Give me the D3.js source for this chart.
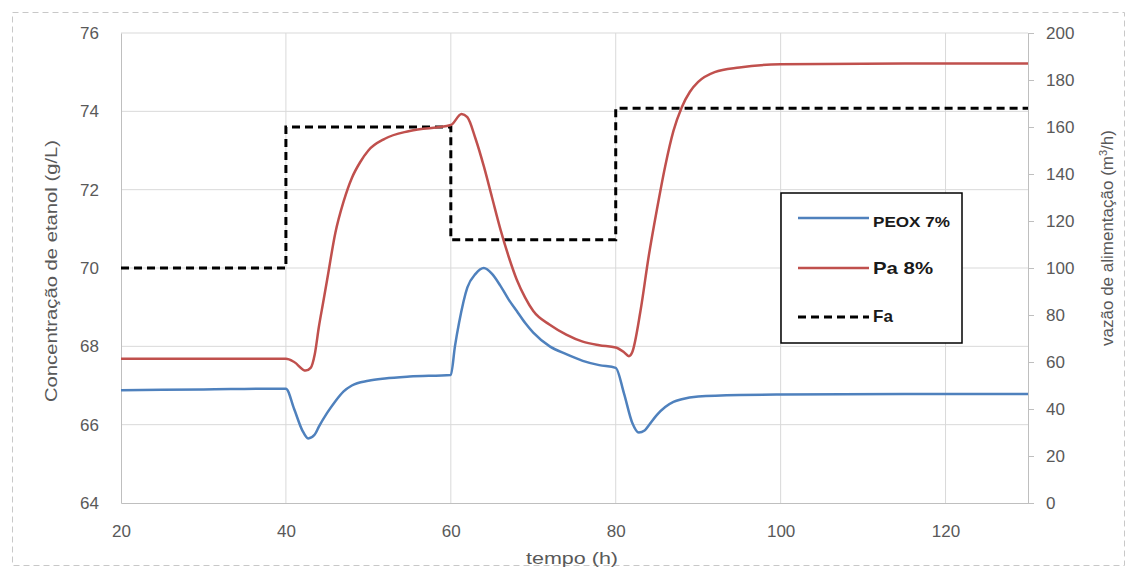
<!DOCTYPE html>
<html>
<head>
<meta charset="utf-8">
<script src="https://cdn.jsdelivr.net/npm/d3@7"></script>
<style>
  body { margin: 0; background: #fff; }
  text { font-family: "Liberation Sans", Arial, sans-serif; }
</style>
</head>
<body>
<script>
// tempo (h) / concentração (g/L)
var peoxT = [20, 30, 40, 41, 42, 42.7, 43.5, 44, 45, 46, 47, 48, 50, 52, 55, 60, 60.5, 61, 62, 63, 64, 65, 66, 67, 68, 69, 70, 72, 74, 76, 78, 80, 81, 82, 82.8, 83.5, 84, 85, 86, 87, 88, 90, 95, 100, 115, 130];
var peoxY = [66.88, 66.9, 66.92, 66.4, 65.85, 65.65, 65.75, 65.95, 66.3, 66.6, 66.85, 67.0, 67.12, 67.18, 67.23, 67.27, 68.0, 68.6, 69.5, 69.85, 70.0, 69.85, 69.55, 69.2, 68.9, 68.6, 68.35, 68.0, 67.8, 67.63, 67.52, 67.45, 66.8, 66.05, 65.8, 65.85, 65.98, 66.25, 66.45, 66.58, 66.65, 66.72, 66.76, 66.77, 66.78, 66.78];

var paT = [20, 30, 40, 41, 42.4, 43, 43.5, 44, 44.5, 45, 46, 47, 48, 49, 50, 52, 55, 60, 61.3, 62, 63, 64, 65, 66, 67, 68, 69, 70, 72, 74, 76, 78, 80, 81, 81.6, 82, 83, 84, 85, 86, 87, 88, 89, 90, 92, 95, 100, 115, 130];
var paY = [67.68, 67.68, 67.68, 67.6, 67.38, 67.45, 67.8, 68.5, 69.1, 69.7, 70.9, 71.7, 72.3, 72.7, 73.0, 73.3, 73.5, 73.65, 73.93, 73.85, 73.3, 72.6, 71.8, 71.0, 70.3, 69.7, 69.25, 68.9, 68.55, 68.3, 68.12, 68.03, 67.97, 67.85, 67.75, 67.85, 68.9, 70.3, 71.5, 72.6, 73.5, 74.1, 74.5, 74.75, 75.0, 75.12, 75.2, 75.22, 75.22];

// vazão de alimentação (m3/h), degraus
var faT = [20, 40, 40, 60, 60, 80, 80, 130];
var faY = [100, 100, 160, 160, 112, 112, 168, 168];

var xTicks = [20, 40, 60, 80, 100, 120];
var yTicks = [64, 66, 68, 70, 72, 74, 76];
var y2Ticks = [0, 20, 40, 60, 80, 100, 120, 140, 160, 180, 200];

var w = 1131, h = 569;
var pLeft = 121, pRight = 1028, pTop = 33, pBottom = 503;

var svg = d3.select("body").append("svg")
  .attr("width", w).attr("height", h);

// outer dashed frame
svg.append("rect")
  .attr("x", 12.5).attr("y", 12.5)
  .attr("width", w - 19).attr("height", h - 16)
  .attr("fill", "none").attr("stroke", "#c8c8c8")
  .attr("stroke-dasharray", "6,4");

var x = d3.scaleLinear().domain([20, 130]).range([pLeft, pRight]);
var y = d3.scaleLinear().domain([64, 76]).range([pBottom, pTop]);
var y2 = d3.scaleLinear().domain([0, 200]).range([pBottom, pTop]);

var grey = "#d9d9d9";

// grid
svg.append("g").selectAll("line").data(yTicks.slice(1)).enter().append("line")
  .attr("x1", pLeft).attr("x2", pRight)
  .attr("y1", function(d) { return y(d); }).attr("y2", function(d) { return y(d); })
  .attr("stroke", grey);
svg.append("g").selectAll("line").data(xTicks.slice(1)).enter().append("line")
  .attr("y1", pTop).attr("y2", pBottom)
  .attr("x1", function(d) { return x(d); }).attr("x2", function(d) { return x(d); })
  .attr("stroke", grey);

// axes
var xAxis = d3.axisBottom(x).tickValues(xTicks).tickSize(0).tickPadding(22);
var yAxis = d3.axisLeft(y).tickValues(yTicks).tickSize(0).tickPadding(22);
var y2Axis = d3.axisRight(y2).tickValues(y2Ticks).tickSize(6).tickPadding(12);

function styleAxis(g) {
  g.select(".domain").attr("stroke", "#bfbfbf");
  g.selectAll(".tick line").attr("stroke", "#bfbfbf");
  g.selectAll("text").attr("fill", "#595959").style("font-size", "17px")
    .style("font-family", "'Liberation Sans', Arial, sans-serif");
}

svg.append("g").attr("transform", "translate(0," + pBottom + ")").call(xAxis).call(styleAxis);
svg.append("g").attr("transform", "translate(" + pLeft + ",0)").call(yAxis).call(styleAxis);
svg.append("g").attr("transform", "translate(" + pRight + ",0)").call(y2Axis).call(styleAxis);

// axis titles
svg.append("text")
  .attr("transform", "translate(572,564)")
  .attr("text-anchor", "middle").attr("fill", "#595959").style("font-size", "17px")
  .attr("textLength", 92).attr("lengthAdjust", "spacingAndGlyphs")
  .text("tempo (h)");

svg.append("text")
  .attr("transform", "translate(57,271) rotate(-90)")
  .attr("text-anchor", "middle").attr("fill", "#595959").style("font-size", "17px")
  .attr("textLength", 262).attr("lengthAdjust", "spacingAndGlyphs")
  .text("Concentração de etanol (g/L)");

var t2 = svg.append("text")
  .attr("transform", "translate(1113,238) rotate(-90)")
  .attr("text-anchor", "middle").attr("fill", "#595959").style("font-size", "17px");
t2.append("tspan").text("vazão de alimentação (m");
t2.append("tspan").attr("baseline-shift", "super").style("font-size", "11px").text("3");
t2.append("tspan").text("/h)");

// series
var line = d3.line().curve(d3.curveMonotoneX);
var stepLine = d3.line().curve(d3.curveLinear);

svg.append("path")
  .attr("d", stepLine(faT.map(function(t, i) { return [x(t), y2(faY[i])]; })))
  .attr("fill", "none").attr("stroke", "#000").attr("stroke-width", 3)
  .attr("stroke-dasharray", "8,5");

svg.append("path")
  .attr("d", line(paT.map(function(t, i) { return [x(t), y(paY[i])]; })))
  .attr("fill", "none").attr("stroke", "#c0504d").attr("stroke-width", 2.5);

svg.append("path")
  .attr("d", line(peoxT.map(function(t, i) { return [x(t), y(peoxY[i])]; })))
  .attr("fill", "none").attr("stroke", "#4f81bd").attr("stroke-width", 2.5);

// legend
var lg = svg.append("g").attr("transform", "translate(781,193)");
lg.append("rect").attr("width", 181).attr("height", 150)
  .attr("fill", "#fff").attr("stroke", "#000").attr("stroke-width", 1.5);

var legendItems = [
  { name: "PEOX 7%", color: "#4f81bd", dash: null, size: "15px", len: 77, yy: 25, off: 4 },
  { name: "Pa 8%", color: "#c0504d", dash: null, size: "17px", len: 60, yy: 75, off: 0 },
  { name: "Fa", color: "#000", dash: "8,5", size: "17px", len: null, yy: 124, off: -1 }
];
legendItems.forEach(function(d) {
  lg.append("line").attr("x1", 17).attr("x2", 88).attr("y1", d.yy).attr("y2", d.yy)
    .attr("stroke", d.color).attr("stroke-width", d.dash ? 3 : 2.5)
    .attr("stroke-dasharray", d.dash);
  var t = lg.append("text").attr("x", 92).attr("y", d.yy + d.off).attr("dy", "0.35em")
    .attr("fill", "#1a1a1a").style("font-weight", "bold").style("font-size", d.size)
    .text(d.name);
  if (d.len) t.attr("textLength", d.len).attr("lengthAdjust", "spacingAndGlyphs");
});
</script>
</body>
</html>
